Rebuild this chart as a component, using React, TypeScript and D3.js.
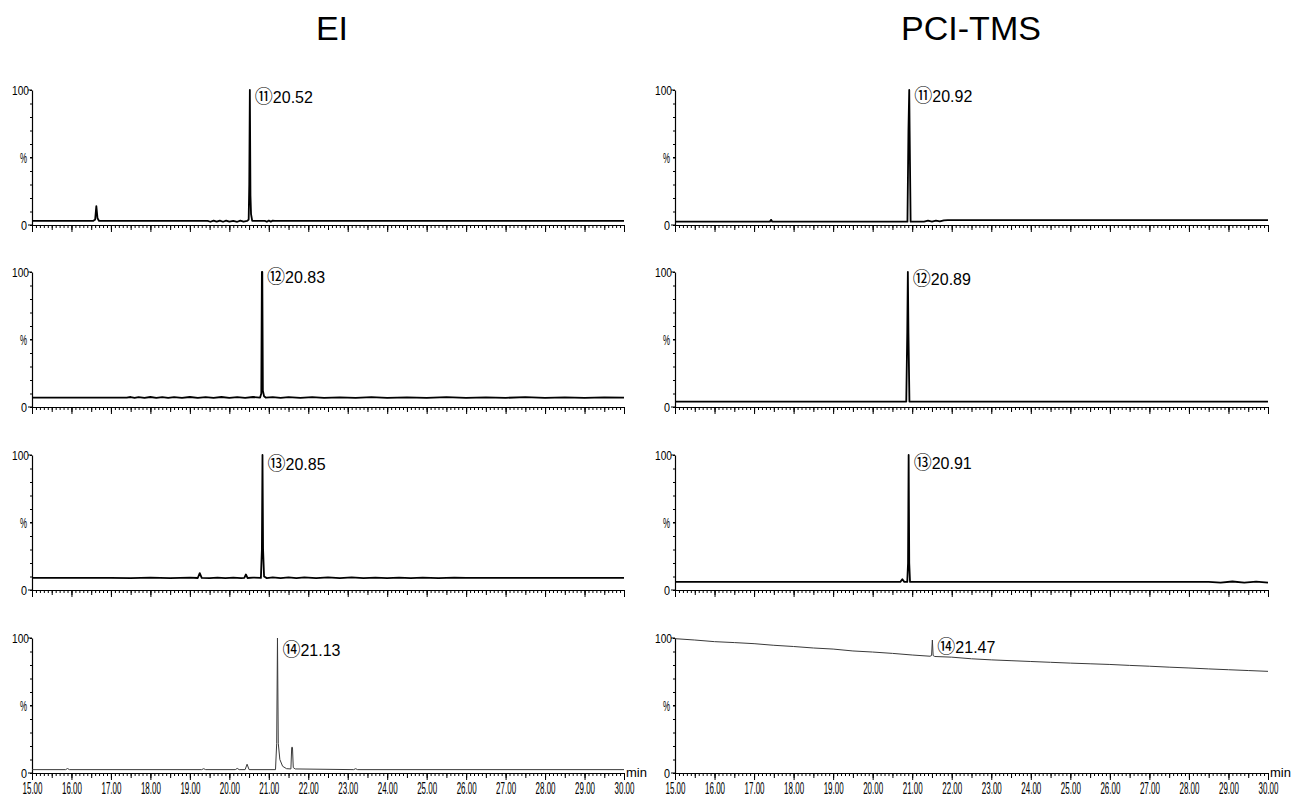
import React, { useEffect, useRef } from "react";
import * as d3 from "d3";

type Pt = [number, number];

// ── Data (retention time in min, relative intensity in %) ─────────────────
const TITLES = ["EI", "PCI-TMS"];
const X_TICKS = [15, 16, 17, 18, 19, 20, 21, 22, 23, 24, 25, 26, 27, 28, 29, 30];
const Y_LABELS = ["0", "%", "100"];
const Y_LABEL_AT = [0, 50, 100];

const EI_11: Pt[] = [
  [15, 3], [16.55, 3], [16.6, 4], [16.63, 14], [16.66, 5], [16.7, 3], [19.45, 3], [19.52, 2.4],
  [19.6, 3.3], [19.68, 2.5], [19.76, 3.3], [19.84, 2.4], [19.92, 3.2], [20.0, 2.5], [20.1, 3],
  [20.2, 2.4], [20.28, 3.3], [20.36, 2.5], [20.45, 3], [20.49, 4], [20.505, 30], [20.52, 100],
  [20.535, 22], [20.55, 8], [20.58, 3], [20.9, 3], [20.95, 2.4], [21.0, 3.3], [21.05, 2.5],
  [21.1, 3.2], [21.15, 3], [30, 3],
];
const EI_12: Pt[] = [
  [15, 7], [17.4, 7], [17.5, 7.4], [17.6, 6.8], [17.7, 7.3], [17.85, 6.7], [18.0, 7.4], [18.15, 6.8],
  [18.3, 7.3], [18.45, 6.7], [18.6, 7.3], [18.8, 6.8], [19.0, 7.4], [19.2, 6.7], [19.4, 7.3],
  [19.6, 6.8], [19.8, 7.4], [20.0, 6.7], [20.2, 7.3], [20.4, 6.8], [20.6, 7.4], [20.78, 7],
  [20.81, 10], [20.825, 100], [20.835, 100], [20.85, 12], [20.88, 8], [20.92, 7], [21.1, 7.3],
  [21.3, 6.8], [21.5, 7.3], [21.8, 6.8], [22.1, 7.3], [22.4, 6.8], [22.8, 7.2], [23.2, 6.8],
  [23.6, 7.3], [24, 6.8], [24.5, 7.2], [25, 6.8], [25.5, 7.3], [26, 6.8], [26.5, 7.2], [27, 6.8],
  [27.5, 7.3], [28, 6.8], [28.5, 7.2], [29, 6.8], [29.5, 7.2], [30, 7],
];
const EI_13: Pt[] = [
  [15, 9], [17, 9], [17.5, 8.8], [18, 9.2], [18.5, 8.8], [19, 9.2], [19.2, 8.9], [19.25, 12.5],
  [19.3, 9], [19.5, 8.8], [19.7, 9.2], [19.9, 8.8], [20.1, 9.2], [20.3, 8.8], [20.38, 9],
  [20.42, 11.5], [20.46, 8.9], [20.6, 9.2], [20.8, 9], [20.825, 30], [20.84, 100], [20.855, 30],
  [20.88, 10], [20.95, 8.8], [21.1, 9.3], [21.3, 8.8], [21.5, 9.3], [21.7, 8.8], [21.9, 9.3],
  [22.2, 8.8], [22.5, 9.3], [22.8, 8.8], [23.1, 9.3], [23.4, 8.8], [23.7, 9.2], [24, 8.8],
  [24.3, 9.2], [24.6, 8.8], [24.9, 9.2], [25.3, 8.8], [25.7, 9.1], [26, 9], [30, 9],
];
const EI_14: Pt[] = [
  [15, 2.5], [15.85, 2.5], [15.9, 3.3], [15.95, 2.5], [19.3, 2.5], [19.35, 3.2], [19.4, 2.5],
  [20.15, 2.5], [20.2, 3.4], [20.25, 2.5], [20.4, 2.5], [20.45, 6.5], [20.5, 2.5], [21.17, 2.5],
  [21.2, 22], [21.22, 100], [21.24, 22], [21.28, 10], [21.35, 5], [21.45, 3.2], [21.56, 3],
  [21.58, 19], [21.6, 19], [21.62, 4], [21.67, 3], [23.15, 2.5], [23.2, 3.2], [23.25, 2.5], [30, 2.5],
];

const PCI_11: Pt[] = [
  [15, 2.5], [17.4, 2.5], [17.43, 3.8], [17.46, 2.5], [20.88, 2.5], [20.905, 70], [20.925, 100],
  [20.935, 70], [20.96, 2.5], [21.3, 2.5], [21.4, 3.2], [21.5, 2.5], [21.6, 3.3], [21.7, 2.6],
  [21.8, 3.4], [21.9, 3.6], [22.5, 3.6], [30, 3.6],
];
const PCI_12: Pt[] = [
  [15, 4], [20.85, 4], [20.875, 55], [20.89, 100], [20.905, 55], [20.93, 4], [30, 4],
];
const PCI_13: Pt[] = [
  [15, 6], [20.7, 6], [20.75, 8], [20.8, 6], [20.875, 6], [20.895, 20], [20.91, 100], [20.925, 20],
  [20.945, 6], [28.5, 6], [28.8, 5.5], [29.1, 6.3], [29.4, 5.4], [29.7, 6.2], [30, 5.4],
];
const PCI_14: Pt[] = [
  [15, 99.5], [15.5, 98.5], [16, 97.3], [16.5, 96.6], [17, 95.8], [17.5, 94.6], [18, 93.7],
  [18.5, 92.6], [19, 91.8], [19.5, 90.4], [20, 89.6], [20.5, 88.6], [21, 87.4], [21.45, 86.5],
  [21.49, 87], [21.51, 98.5], [21.53, 87], [21.57, 86.3], [22, 85.8], [22.5, 84.6], [23, 83.8],
  [23.5, 83.2], [24, 82.6], [24.5, 82], [25, 81.4], [25.5, 80.9], [26, 80.4], [26.5, 79.7],
  [27, 79.1], [27.5, 78.4], [28, 77.8], [28.5, 77.1], [29, 76.5], [29.5, 75.9], [30, 75.3],
];

const EI_TRACES = [EI_11, EI_12, EI_13, EI_14];
const PCI_TRACES = [PCI_11, PCI_12, PCI_13, PCI_14];
const PEAK_NO = ["⑪", "⑫", "⑬", "⑭"];
const EI_RT = ["20.52", "20.83", "20.85", "21.13"];
const PCI_RT = ["20.92", "20.89", "20.91", "21.47"];
const EI_APEX = [20.52, 20.83, 20.84, 21.22];
const PCI_APEX = [20.925, 20.89, 20.91, 21.51];

// ── Layout ────────────────────────────────────────────────────────────────
const W = 1292;
const H = 800;
const COLS = [
  { x0: 32, x1: 624, cx: 332 },
  { x0: 675, x1: 1268, cx: 971 },
];
const ROW_TOP = [90, 272, 455, 638];
const ROW_H = 135;
const LABEL_DY = [[13, 11, 15, 18], [12, 13, 14, 15]];
const FONT = "'Liberation Sans', Arial, sans-serif";
const CJK = "'Noto Sans CJK JP', 'DejaVu Sans', sans-serif";

const App = () => {
  const svgRef = useRef<SVGSVGElement>(null);

  useEffect(() => {
    if (!svgRef.current) return;
    const svg = d3.select(svgRef.current);
    svg.selectAll("*").remove();

    svg.append("rect").attr("width", W).attr("height", H).attr("fill", "#fff");

    const cols = [
      { traces: EI_TRACES, rts: EI_RT, apex: EI_APEX },
      { traces: PCI_TRACES, rts: PCI_RT, apex: PCI_APEX },
    ];

    cols.forEach((col, c) => {
      const { x0, x1, cx } = COLS[c];
      const x = d3.scaleLinear().domain([15, 30]).range([x0, x1]);

      // Title
      svg.append("text")
        .attr("x", cx).attr("y", 40)
        .attr("text-anchor", "middle")
        .attr("font-size", "34px")
        .attr("font-family", FONT)
        .attr("fill", "#000")
        .text(TITLES[c]);

      col.traces.forEach((trace, r) => {
        const top = ROW_TOP[r];
        const y = d3.scaleLinear().domain([0, 100]).range([top + ROW_H, top]);
        const g = svg.append("g");
        const isLast = r === ROW_TOP.length - 1;

        // ── X axis: ruler ticks ───────────────────────────────────────────
        const xAxisY = top + ROW_H;
        const minor = d3.range(150, 301).map(v => v / 10);
        const half = d3.range(30, 61).map(v => v / 2);
        [
          { vals: minor, size: 3 },
          { vals: half, size: 5 },
        ].forEach(({ vals, size }) => {
          g.append("g")
            .attr("transform", `translate(0,${xAxisY})`)
            .call(d3.axisBottom(x).tickValues(vals).tickSize(size).tickSizeOuter(0).tickFormat(() => ""))
            .call(ax => ax.select(".domain").remove())
            .call(ax => ax.selectAll(".tick line").attr("stroke", "#000").attr("stroke-width", 1));
        });
        const major = g.append("g")
          .attr("transform", `translate(0,${xAxisY})`)
          .call(d3.axisBottom(x).tickValues(X_TICKS).tickSize(7).tickSizeOuter(0)
            .tickFormat(d => (isLast ? d3.format(".2f")(d as number) : "")));
        major.select(".domain").attr("stroke", "#000").attr("stroke-width", 1.2);
        major.selectAll(".tick line").attr("stroke", "#000");
        // condensed labels: squeeze horizontally around the tick
        major.selectAll(".tick text")
          .attr("y", 9).attr("dy", "0.72em")
          .attr("transform", "scale(0.47,1)")
          .attr("fill", "#000")
          .attr("font-size", "17px")
          .attr("font-family", FONT);

        if (isLast) {
          g.append("text")
            .attr("x", x1 + 2).attr("y", xAxisY + 4)
            .attr("font-size", "13px")
            .attr("font-family", FONT)
            .attr("fill", "#000")
            .text("min");
        }

        // ── Y axis ────────────────────────────────────────────────────────
        const yAx = g.append("g")
          .attr("transform", `translate(${x0},0)`)
          .call(d3.axisLeft(y).tickValues(d3.range(0, 101, 10)).tickSize(2).tickSizeOuter(0).tickFormat(() => ""));
        yAx.select(".domain").attr("stroke", "#000").attr("stroke-width", 1.2);
        yAx.selectAll(".tick line").attr("stroke", "#000");

        Y_LABELS.forEach((lab, i) => {
          const v = Y_LABEL_AT[i];
          const sx = lab === "100" ? 0.78 : lab === "%" ? 0.53 : 0.83;
          const tx = x0 - (lab === "100" ? 3 : 5);
          const ty = y(v) + (lab === "%" ? 5.5 : 4.5);
          g.append("line")
            .attr("x1", x0 - (v === 50 ? 2 : 4)).attr("x2", x0)
            .attr("y1", y(v)).attr("y2", y(v))
            .attr("stroke", "#000");
          g.append("text")
            .attr("transform", `translate(${tx},${ty}) scale(${sx},1)`)
            .attr("text-anchor", "end")
            .attr("font-size", lab === "%" ? "15px" : "13px")
            .attr("font-family", FONT)
            .attr("fill", "#000")
            .text(lab);
        });

        // ── Trace ─────────────────────────────────────────────────────────
        const line = d3.line<Pt>().x(d => x(d[0])).y(d => y(d[1]));
        g.append("path")
          .datum(trace)
          .attr("d", line)
          .attr("fill", "none")
          .attr("stroke", isLast ? "#3a3a3a" : "#000")
          .attr("stroke-width", isLast ? 1 : 1.8)
          .attr("stroke-linejoin", "round");

        // ── Peak label ────────────────────────────────────────────────────
        const lab = g.append("text")
          .attr("x", x(col.apex[r]) + 5)
          .attr("y", top + LABEL_DY[c][r])
          .attr("font-size", "16px")
          .attr("font-family", FONT)
          .attr("fill", "#000");
        lab.append("tspan")
          .attr("font-family", CJK)
          .attr("font-size", "18px")
          .text(PEAK_NO[r]);
        lab.append("tspan").text(col.rts[r]);
      });
    });
  }, []);

  return (
    <svg
      ref={svgRef}
      width={W}
      height={H}
      style={{ position: "absolute", left: 0, top: 0, display: "block" }}
    />
  );
};

export default App;
